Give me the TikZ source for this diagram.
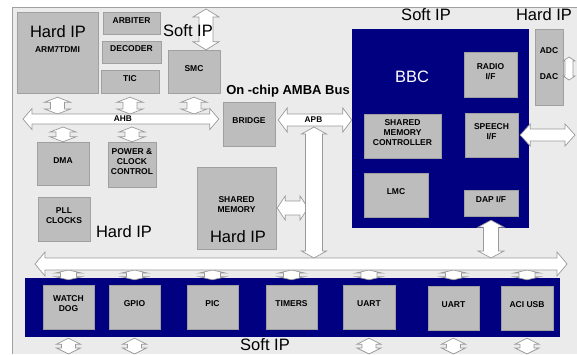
\documentclass[tikz,border=0pt]{standalone}
\usepackage{fontspec}
\setmainfont{Liberation Sans}
\usetikzlibrary{fit,calc}

\definecolor{panelgray}{HTML}{EBEBEB}
\definecolor{boxgray}{HTML}{BDBDBD}
\definecolor{edgegray}{HTML}{A0A0A0}
\definecolor{arrowgray}{HTML}{9A9A9A}
\definecolor{bbcnavy}{HTML}{000080}

% vertical double arrow: top point, bottom point, half head, half shaft, head length
\newcommand\vlink[5]{%
  \draw[linkarr] let \p1=#1, \p2=#2 in
    (\x1,\y1) -- ({\x1+#3pt},{\y1-#5pt}) -- ({\x1+#4pt},{\y1-#5pt})
    -- ({\x1+#4pt},{\y2+#5pt}) -- ({\x1+#3pt},{\y2+#5pt}) -- (\x1,\y2)
    -- ({\x1-#3pt},{\y2+#5pt}) -- ({\x1-#4pt},{\y2+#5pt})
    -- ({\x1-#4pt},{\y1-#5pt}) -- ({\x1-#3pt},{\y1-#5pt}) -- cycle;}
% horizontal double arrow: left point, right point, half head, half shaft, head length
\newcommand\hlink[5]{%
  \draw[linkarr] let \p1=#1, \p2=#2 in
    (\x1,\y1) -- ({\x1+#5pt},{\y1+#3pt}) -- ({\x1+#5pt},{\y1+#4pt})
    -- ({\x2-#5pt},{\y1+#4pt}) -- ({\x2-#5pt},{\y1+#3pt}) -- (\x2,\y1)
    -- ({\x2-#5pt},{\y1-#3pt}) -- ({\x2-#5pt},{\y1-#4pt})
    -- ({\x1+#5pt},{\y1-#4pt}) -- ({\x1+#5pt},{\y1-#3pt}) -- cycle;}

\begin{document}
\begin{tikzpicture}[x=1pt, y=-1pt,
  ipbox/.style={draw=edgegray, fill=boxgray, inner sep=0pt, align=center,
    font=\bfseries\fontsize{8.5}{10}\selectfont},
  navyarea/.style={fill=bbcnavy, inner sep=0pt},
  iplabel/.style={font=\fontsize{16.5}{18}\selectfont, inner sep=0pt},
  buslabel/.style={font=\bfseries\fontsize{8.3}{9}\selectfont, inner sep=0pt},
  linkarr/.style={draw=arrowgray, fill=white, line width=0.7pt}
]
  \useasboundingbox (0,0) rectangle (577,354);
  \fill[panelgray] (12,7) rectangle (577,354);
  \draw[edgegray, line width=0.6pt] (577,7) -- (12,7) -- (12,354);

  % AHB side
  \node[ipbox, fit={(17,12) (98,93)}] (arm) {ARM7TDMI};
  \node[iplabel] (armip) at (58,32) {Hard IP};
  \node[ipbox, fit={(103,12) (160,34)}] (arbiter) {ARBITER};
  \node[ipbox, fit={(102,41) (161,63)}] (decoder) {DECODER};
  \node[ipbox, fit={(101,70) (159,93)}] (tic) {TIC};
  \node[ipbox, fit={(168,50) (220,93)}] (smc) {SMC};
  \node[ipbox, fit={(37,142) (89,185)}] (dma) {DMA};
  \node[ipbox, fit={(108,142) (156,187)}] (power) {POWER \&\\CLOCK\\CONTROL};
  \node[ipbox, fit={(38,197) (90,241)}] (pll) {PLL\\CLOCKS};
  \node[iplabel] (hardipB) at (124,232) {Hard IP};
  \node[ipbox, fit={(223,102) (275,146)}] (bridge) {BRIDGE};
  \node[font=\bfseries\fontsize{13}{15}\selectfont, inner sep=0pt] (ambalbl) at (288,91) {On -chip AMBA Bus};
  \node[ipbox, fit={(197,167) (276,249)}] (shmem) {SHARED\\MEMORY};
  \node[iplabel] (shmemip) at (238,237) {Hard IP};

  % BBC
  \node[navyarea, fit={(352,29) (529,228)}] (bbc) {};
  \node[iplabel, text=white] (bbclbl) at (412,77) {BBC};
  \node[iplabel] (softipB) at (426,15) {Soft IP};
  \node[iplabel] (hardipA) at (544,15) {Hard IP};
  \node[ipbox, fit={(464,52) (517,97)}] (radio) {RADIO\\I/F};
  \node[ipbox, fit={(364,114) (441,158)}] (smctrl) {SHARED\\MEMORY\\CONTROLLER};
  \node[ipbox, fit={(465,113) (518,157)}] (speech) {SPEECH\\I/F};
  \node[ipbox, fit={(364,173) (428,217)}] (lmc) {LMC};
  \node[ipbox, fit={(464,190) (518,216)}] (dap) {DAP I/F};
  \node[ipbox, fit={(535,29) (563,105)}] (adc) {ADC\\[16pt]DAC};

  % peripheral strip
  \node[navyarea, fit={(25,278) (560,337)}] (strip) {};
  \node[ipbox, fit={(43,285) (94,329)}] (wd) {WATCH\\DOG};
  \node[ipbox, fit={(109,285) (160,329)}] (gpio) {GPIO};
  \node[ipbox, fit={(187,285) (238,329)}] (pic) {PIC};
  \node[ipbox, fit={(266,285) (317,329)}] (timers) {TIMERS};
  \node[ipbox, fit={(343,285) (395,329)}] (uart1) {UART};
  \node[ipbox, fit={(428,286) (479,330)}] (uart2) {UART};
  \node[ipbox, fit={(501,286) (553,330)}] (aci) {ACI USB};
  \node[iplabel] (softipC) at (265,345) {Soft IP};

  % bus rails
  \coordinate (ahbL) at (23,119);
  \coordinate (ahbN) at (0,114);
  \coordinate (ahbS) at (0,124);
  \coordinate (apbY) at (0,120);
  \coordinate (apbV) at (314,127);
  \coordinate (busL) at (35,264);
  \coordinate (busR) at (567,264);
  \coordinate (busN) at (0,258);
  \coordinate (busS) at (0,270);
  \coordinate (smcport) at (206,9);
  \coordinate (speechout) at (575,0);
  \coordinate (adcport) at (569,57);
  \coordinate (adcportS) at (569,80);
  \coordinate (bottomedge) at (0,354);

  % links to the buses
  \foreach \m in {arm,tic,smc}
    \vlink{($(\m.south)+(0,4)$)}{(\m.south |- ahbN)}{13}{7}{5};
  \foreach \m in {dma,power}
    \vlink{($(\m.north |- ahbS)+(0,3)$)}{(\m.north)}{13}{7}{5};
  \vlink{(smcport)}{(smcport |- smc.north)}{13}{7}{8};
  \node[iplabel] (softipA) at (188,31) {Soft IP};
  \foreach \m in {wd,gpio,pic,timers,uart1,uart2,aci}
    \vlink{(\m.north |- busS)}{($(\m.north |- strip.north)+(0,2)$)}{13}{8}{3};
  \foreach \m in {wd,gpio,uart1,uart2,aci}
    \vlink{($(\m.south |- strip.south)+(0,1)$)}{(\m.south |- bottomedge)}{12}{7}{6};
  \hlink{($(shmem.east)+(1,0)$)}{($(apbV |- shmem.east)+(-6,0)$)}{12}{7}{8};
  \vlink{(apbV)}{(apbV |- busN)}{12.5}{8.5}{7};
  \vlink{($(dap.south)+(0,4)$)}{(dap.south |- busN)}{13}{7.5}{7};
  \hlink{($(speech.east)+(2,0)$)}{(speechout |- speech.east)}{11}{6}{10};
  \vlink{(adcport)}{(adcportS)}{6}{4}{4};

  % buses
  \hlink{(ahbL)}{($(bridge.west |- ahbL)+(-4,0)$)}{10.5}{5}{9};
  \node[buslabel] (ahblbl) at ($(ahbL)!.5!(bridge.west |- ahbL)$) {AHB};
  \hlink{($(bridge.east |- apbY)+(3,0)$)}{(bbc.west |- apbY)}{12}{6}{9};
  \node[buslabel] (apblbl) at ($(bridge.east |- apbY)!.5!(bbc.west |- apbY)$) {APB};
  \hlink{(busL)}{(busR)}{12}{6}{10};
\end{tikzpicture}
\end{document}
